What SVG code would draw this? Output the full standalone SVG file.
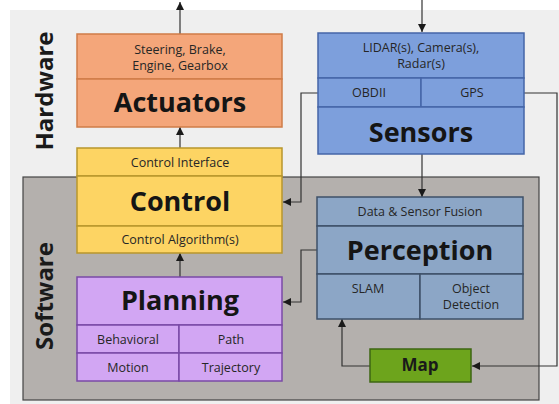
<svg xmlns="http://www.w3.org/2000/svg" width="559" height="404" viewBox="0 0 559 404">
<defs>
<marker id="ah" viewBox="0 0 10 10" refX="10" refY="5" markerWidth="8" markerHeight="8" markerUnits="userSpaceOnUse" orient="auto">
<path d="M0,0 L10,5 L0,10 z" fill="#1a1a1a"/>
</marker>
<style>
text{font-family:"Open Sans","Liberation Sans",sans-serif;text-anchor:middle;}
.big{font-size:27px;font-weight:bold;fill:#151515;}
.sm{font-size:12.5px;fill:#262626;}
.side{font-size:24px;font-weight:bold;fill:#1a1a1a;}
.con{fill:none;stroke:#333;stroke-width:1.2;}
.act{fill:#f4a67a;stroke:#cf7c48;stroke-width:1.5;}
.ctl{fill:#fdd463;stroke:#b8962c;stroke-width:1.5;}
.pln{fill:#d2a6f3;stroke:#7a4aa6;stroke-width:1.5;}
.sen{fill:#7d9fdc;stroke:#4566a8;stroke-width:1.5;}
.per{fill:#8ca6c6;stroke:#3e5068;stroke-width:1.5;}
.map{fill:#6da41c;stroke:#3d6612;stroke-width:1.5;}
</style>
</defs>
<rect x="0" y="0" width="559" height="404" fill="#ffffff"/>
<rect x="10" y="10" width="549" height="394" fill="#efefef"/>
<g id="software-zone">
<rect x="23" y="177" width="516" height="223" fill="#b4b0ad" stroke="#444" stroke-width="1.2"/>
</g>
<text class="side" transform="translate(53,91) rotate(-90)">Hardware</text>
<text class="side" transform="translate(53,296) rotate(-90)">Software</text>
<g id="connectors">
<path class="con" d="M180,34 V2" marker-end="url(#ah)"/>
<path class="con" d="M180,148 V127" marker-end="url(#ah)"/>
<path class="con" d="M180,277 V253" marker-end="url(#ah)"/>
<path class="con" d="M422,0 V32" marker-end="url(#ah)"/>
<path class="con" d="M422,154 V197" marker-end="url(#ah)"/>
<path class="con" d="M318,93 H301 V202 H283" marker-end="url(#ah)"/>
<path class="con" d="M524,93 H557 V366 H472" marker-end="url(#ah)"/>
<path class="con" d="M318,250 H301 V302 H283" marker-end="url(#ah)"/>
<path class="con" d="M370,366 H342 V319" marker-end="url(#ah)"/>
</g>
<g id="actuators">
<rect class="act" x="77" y="34" width="205" height="45"/>
<rect class="act" x="77" y="79" width="205" height="48"/>
<text class="sm" x="180" y="54">Steering, Brake,</text>
<text class="sm" x="180" y="70">Engine, Gearbox</text>
<text class="big" x="180" y="112">Actuators</text>
</g>
<g id="control">
<rect class="ctl" x="77" y="148" width="205" height="28"/>
<rect class="ctl" x="77" y="176" width="205" height="50"/>
<rect class="ctl" x="77" y="226" width="205" height="27"/>
<text class="sm" x="180" y="167">Control Interface</text>
<text class="big" x="180" y="211">Control</text>
<text class="sm" x="180" y="244">Control Algorithm(s)</text>
</g>
<g id="planning">
<rect class="pln" x="77" y="277" width="205" height="48"/>
<rect class="pln" x="77" y="325" width="102" height="28"/>
<rect class="pln" x="179" y="325" width="103" height="28"/>
<rect class="pln" x="77" y="353" width="102" height="28"/>
<rect class="pln" x="179" y="353" width="103" height="28"/>
<text class="big" x="180" y="310">Planning</text>
<text class="sm" x="128" y="344">Behavioral</text>
<text class="sm" x="231" y="344">Path</text>
<text class="sm" x="128" y="372">Motion</text>
<text class="sm" x="231" y="372">Trajectory</text>
</g>
<g id="sensors">
<rect class="sen" x="318" y="33" width="206" height="45"/>
<rect class="sen" x="318" y="78" width="103" height="29"/>
<rect class="sen" x="421" y="78" width="103" height="29"/>
<rect class="sen" x="318" y="107" width="206" height="47"/>
<text class="sm" x="421" y="52">LIDAR(s), Camera(s),</text>
<text class="sm" x="421" y="68">Radar(s)</text>
<text class="sm" x="369" y="97">OBDII</text>
<text class="sm" x="472" y="97">GPS</text>
<text class="big" x="421" y="142">Sensors</text>
</g>
<g id="perception">
<rect class="per" x="317" y="197" width="206" height="29"/>
<rect class="per" x="317" y="226" width="206" height="48"/>
<rect class="per" x="317" y="274" width="103" height="45"/>
<rect class="per" x="420" y="274" width="103" height="45"/>
<text class="sm" x="420" y="216">Data &amp; Sensor Fusion</text>
<text class="big" x="420" y="260">Perception</text>
<text class="sm" x="368" y="293">SLAM</text>
<text class="sm" x="471" y="293">Object</text>
<text class="sm" x="471" y="309">Detection</text>
</g>
<g id="map">
<rect class="map" x="370" y="349" width="101" height="33"/>
<text x="420" y="371" style="font-size:17px;font-weight:bold;fill:#1a1a1a;">Map</text>
</g>
</svg>
